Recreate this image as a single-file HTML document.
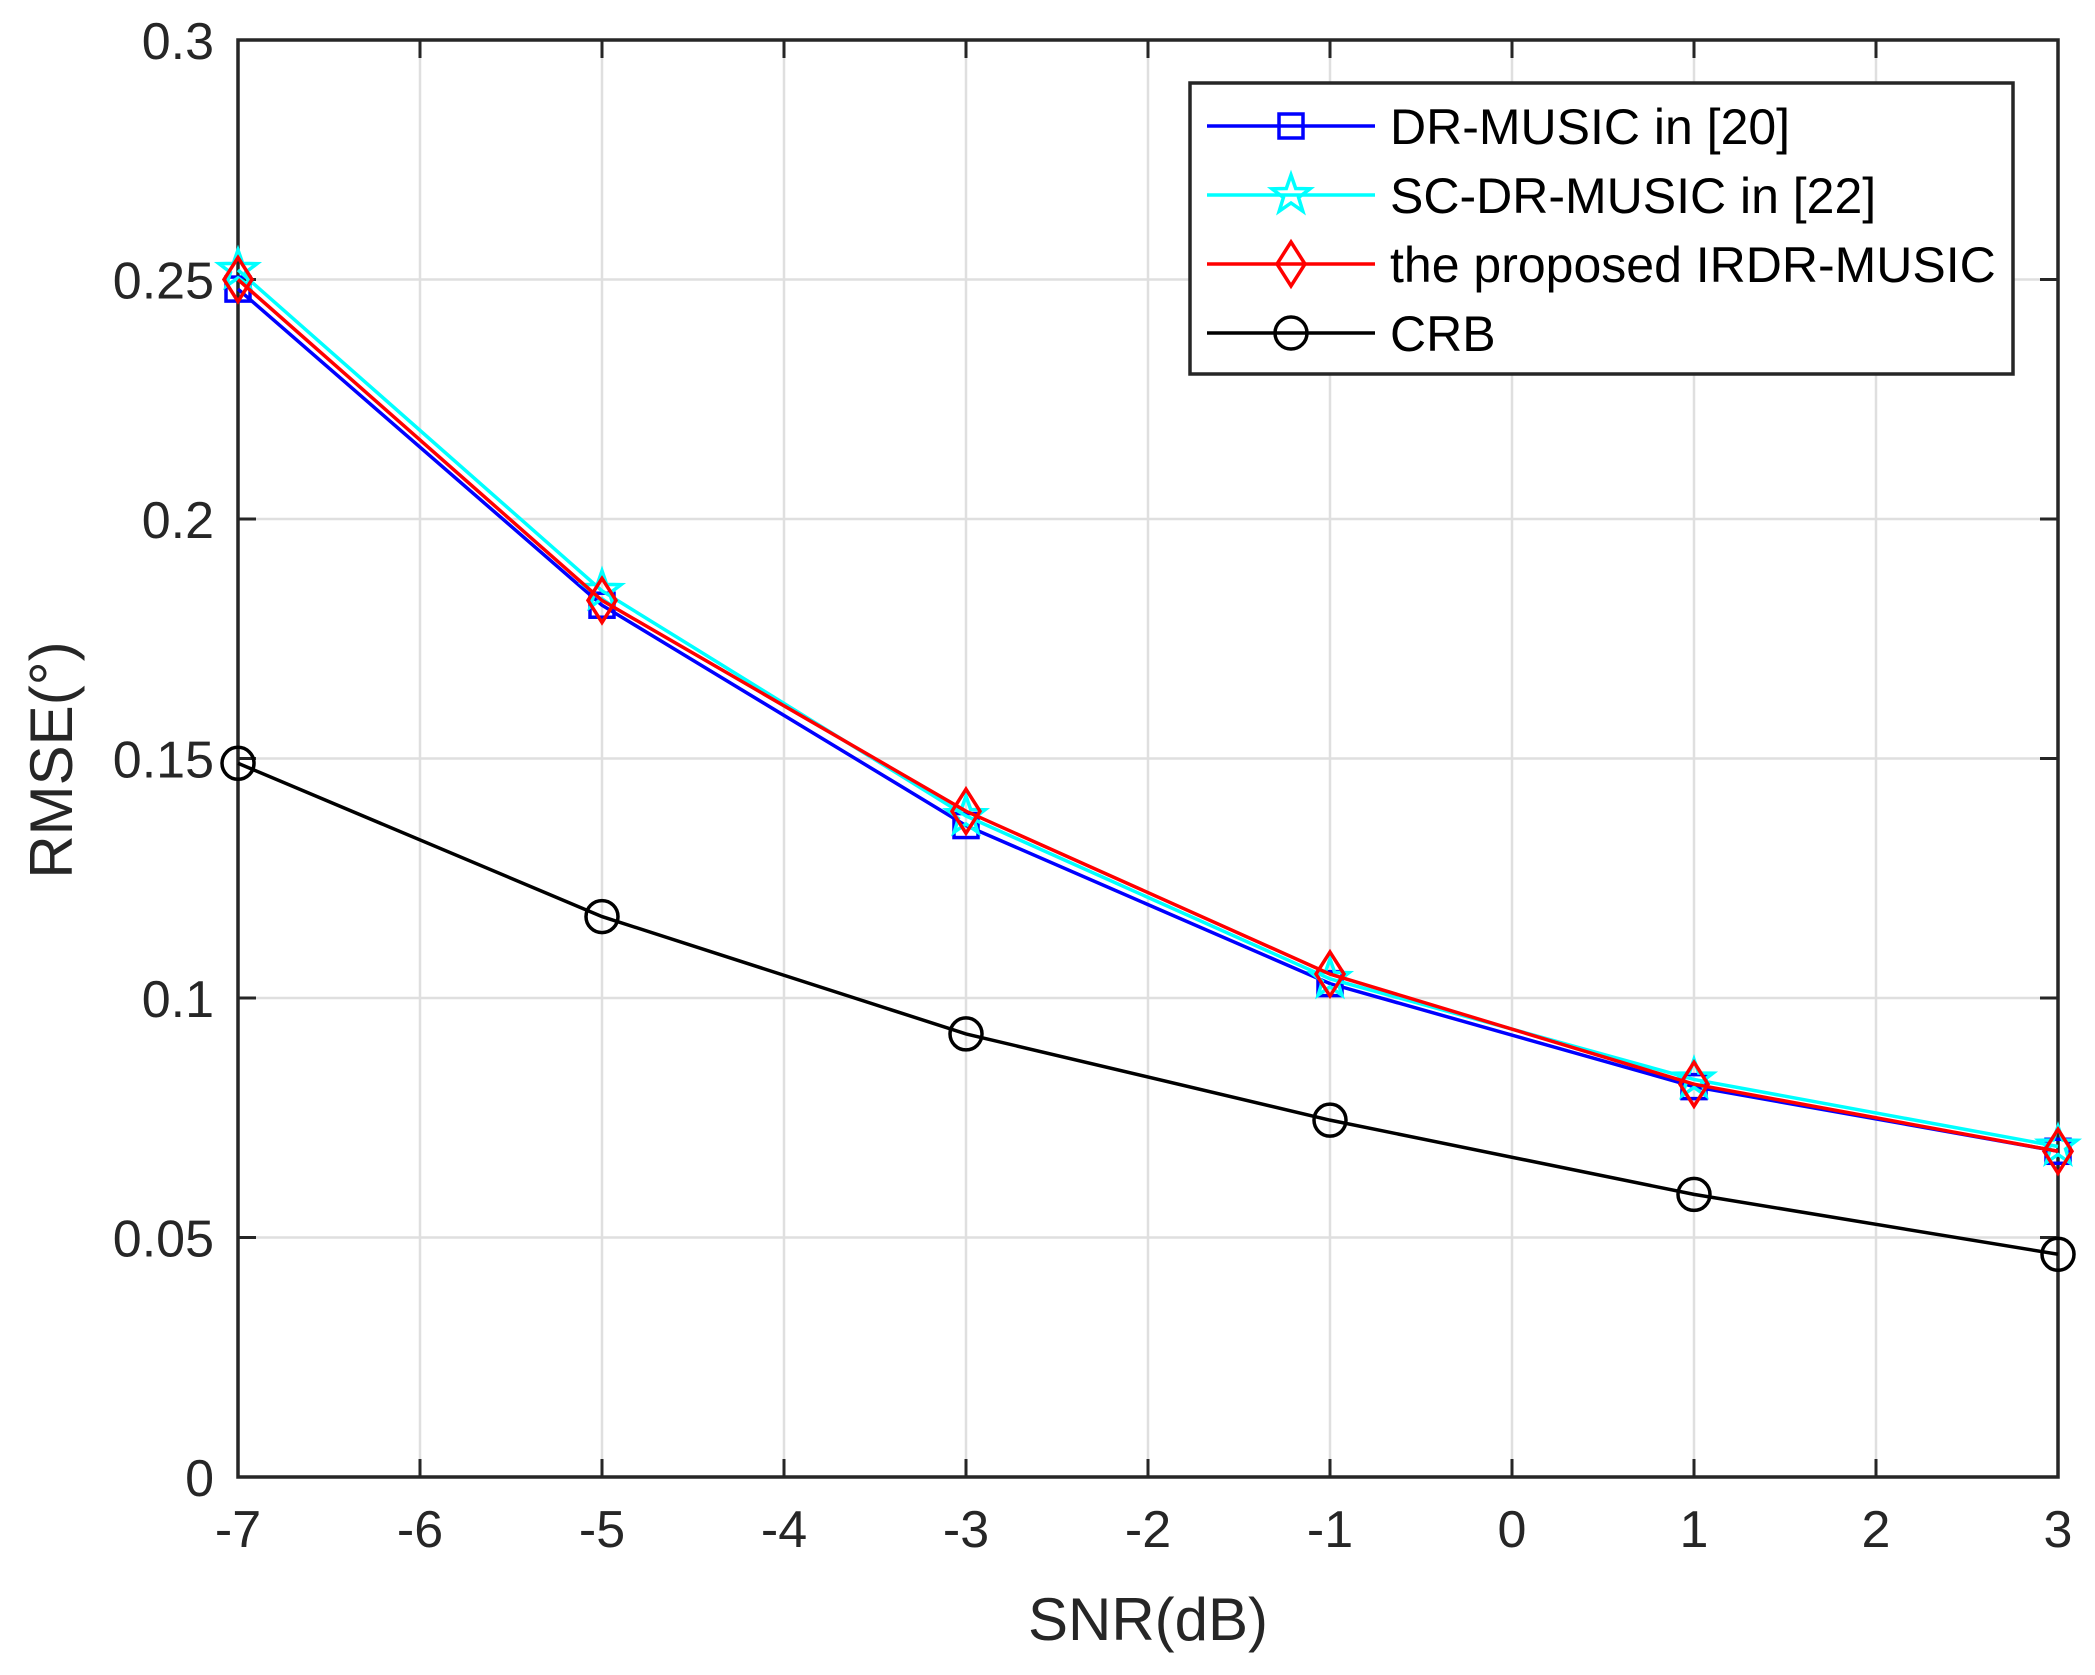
<!DOCTYPE html>
<html><head><meta charset="utf-8"><style>
html,body{margin:0;padding:0;background:#fff;}
svg{display:block;font-family:"Liberation Sans",Arial,sans-serif;}
</style></head><body>
<svg id="chart" width="2095" height="1675" viewBox="0 0 2095 1675">
<rect width="2095" height="1675" fill="#fff"/>
<g id="grid"></g>
<g id="axes"></g>
<g id="series"></g>
<text x="1148" y="1640" font-size="60" text-anchor="middle" fill="#262626">SNR(dB)</text>
<text transform="translate(72,760) rotate(-90)" font-size="60" text-anchor="middle" fill="#262626">RMSE(°)</text>
<g id="legend"></g>
</svg>
<script>
const snr = [-7, -5, -3, -1, 1, 3];
const drMusic = [0.248, 0.182, 0.136, 0.103, 0.0815, 0.068];
const scDrMusic = [0.252, 0.185, 0.138, 0.104, 0.083, 0.069];
const irdrMusic = [0.250, 0.183, 0.139, 0.105, 0.082, 0.068];
const crb = [0.149, 0.117, 0.0925, 0.0745, 0.059, 0.0465];
const xTicks = [-7, -6, -5, -4, -3, -2, -1, 0, 1, 2, 3];
const yTicks = [0, 0.05, 0.1, 0.15, 0.2, 0.25, 0.3];
const yTickLabels = ["0", "0.05", "0.1", "0.15", "0.2", "0.25", "0.3"];
const legendLabels = ["DR-MUSIC in [20]", "SC-DR-MUSIC in [22]", "the proposed IRDR-MUSIC", "CRB"];

const L = 238, R = 2058, T = 40, B = 1477;
const xs = v => L + (v + 7) / 10 * (R - L);
const ys = v => B - v / 0.3 * (B - T);
const NS = "http://www.w3.org/2000/svg";
function mk(tag, attrs, parent) {
  const e = document.createElementNS(NS, tag);
  for (const k in attrs) e.setAttribute(k, attrs[k]);
  parent.appendChild(e);
  return e;
}
const grid = document.getElementById('grid');
const axes = document.getElementById('axes');
xTicks.forEach(t => {
  const g = mk('line', {x1: xs(t), x2: xs(t), y1: T, y2: B, stroke: '#dfdfdf', 'stroke-width': 2.5}, grid);
  
  
  mk('line', {x1: xs(t), x2: xs(t), y1: B, y2: B - 18, stroke: '#262626', 'stroke-width': 3}, axes);
  mk('line', {x1: xs(t), x2: xs(t), y1: T, y2: T + 18, stroke: '#262626', 'stroke-width': 3}, axes);
  const tx = mk('text', {x: xs(t), y: B + 70, 'font-size': 52, 'text-anchor': 'middle', fill: '#262626'}, axes);
  tx.textContent = String(t);
  
  
});
yTicks.forEach((t, i) => {
  const g = mk('line', {x1: L, x2: R, y1: ys(t), y2: ys(t), stroke: '#dfdfdf', 'stroke-width': 2.5}, grid);
  
  
  mk('line', {x1: L, x2: L + 18, y1: ys(t), y2: ys(t), stroke: '#262626', 'stroke-width': 3}, axes);
  mk('line', {x1: R, x2: R - 18, y1: ys(t), y2: ys(t), stroke: '#262626', 'stroke-width': 3}, axes);
  const tx = mk('text', {x: L - 24, y: ys(t) + 19, 'font-size': 52, 'text-anchor': 'end', fill: '#262626'}, axes);
  tx.textContent = yTickLabels[i];
  
  
});
const frame = mk('rect', {x: L, y: T, width: R - L, height: B - T, fill: 'none', stroke: '#262626', 'stroke-width': 3.5}, axes);



function marker(type, x, y, color, parent) {
  if (type === 'square') return mk('rect', {x: x - 12, y: y - 12, width: 24, height: 24, fill: 'none', stroke: color, 'stroke-width': 3.5}, parent);
  if (type === 'diamond') return mk('polygon', {points: `${x},${y-22} ${x+14},${y} ${x},${y+22} ${x-14},${y}`, fill: 'none', stroke: color, 'stroke-width': 3.5}, parent);
  if (type === 'circle') return mk('circle', {cx: x, cy: y, r: 16, fill: 'none', stroke: color, 'stroke-width': 3.5}, parent);
  const pts = [];
  for (let k = 0; k < 10; k++) {
    const r = k % 2 ? 8 : 20, a = -Math.PI / 2 + k * Math.PI / 5;
    pts.push((x + r * Math.cos(a)).toFixed(1) + ',' + (y + r * Math.sin(a)).toFixed(1));
  }
  return mk('polygon', {points: pts.join(' '), fill: 'none', stroke: color, 'stroke-width': 3.5}, parent);
}
const seriesDefs = [
  {vals: drMusic, color: '#0000ff', m: 'square', name: 'dr-music'},
  {vals: scDrMusic, color: '#00ffff', m: 'star', name: 'sc-dr-music'},
  {vals: irdrMusic, color: '#ff0000', m: 'diamond', name: 'irdr-music'},
  {vals: crb, color: '#000000', m: 'circle', name: 'crb'}
];
const sg = document.getElementById('series');
seriesDefs.forEach(s => {
  const g = mk('g', {}, sg);
  
  
  const ln = mk('polyline', {points: s.vals.map((v, i) => xs(snr[i]) + ',' + ys(v)).join(' '), fill: 'none', stroke: s.color, 'stroke-width': 3.5}, g);
  
  
  s.vals.forEach((v, i) => {
    const mm = marker(s.m, xs(snr[i]), ys(v), s.color, g);
    
    
  });
});
const lg = document.getElementById('legend');
const box = mk('rect', {x: 1190, y: 83, width: 823, height: 291, fill: '#fff', stroke: '#262626', 'stroke-width': 3.5}, lg);


seriesDefs.forEach((s, i) => {
  const y = 126 + i * 69;
  const g = mk('g', {}, lg);
  
  
  mk('line', {x1: 1207, x2: 1375, y1: y, y2: y, stroke: s.color, 'stroke-width': 3.5}, g);
  marker(s.m, 1291, y, s.color, g);
  const tx = mk('text', {x: 1390, y: y + 18, 'font-size': 50, fill: '#000'}, g);
  tx.textContent = legendLabels[i];
});
</script>
</body></html>
